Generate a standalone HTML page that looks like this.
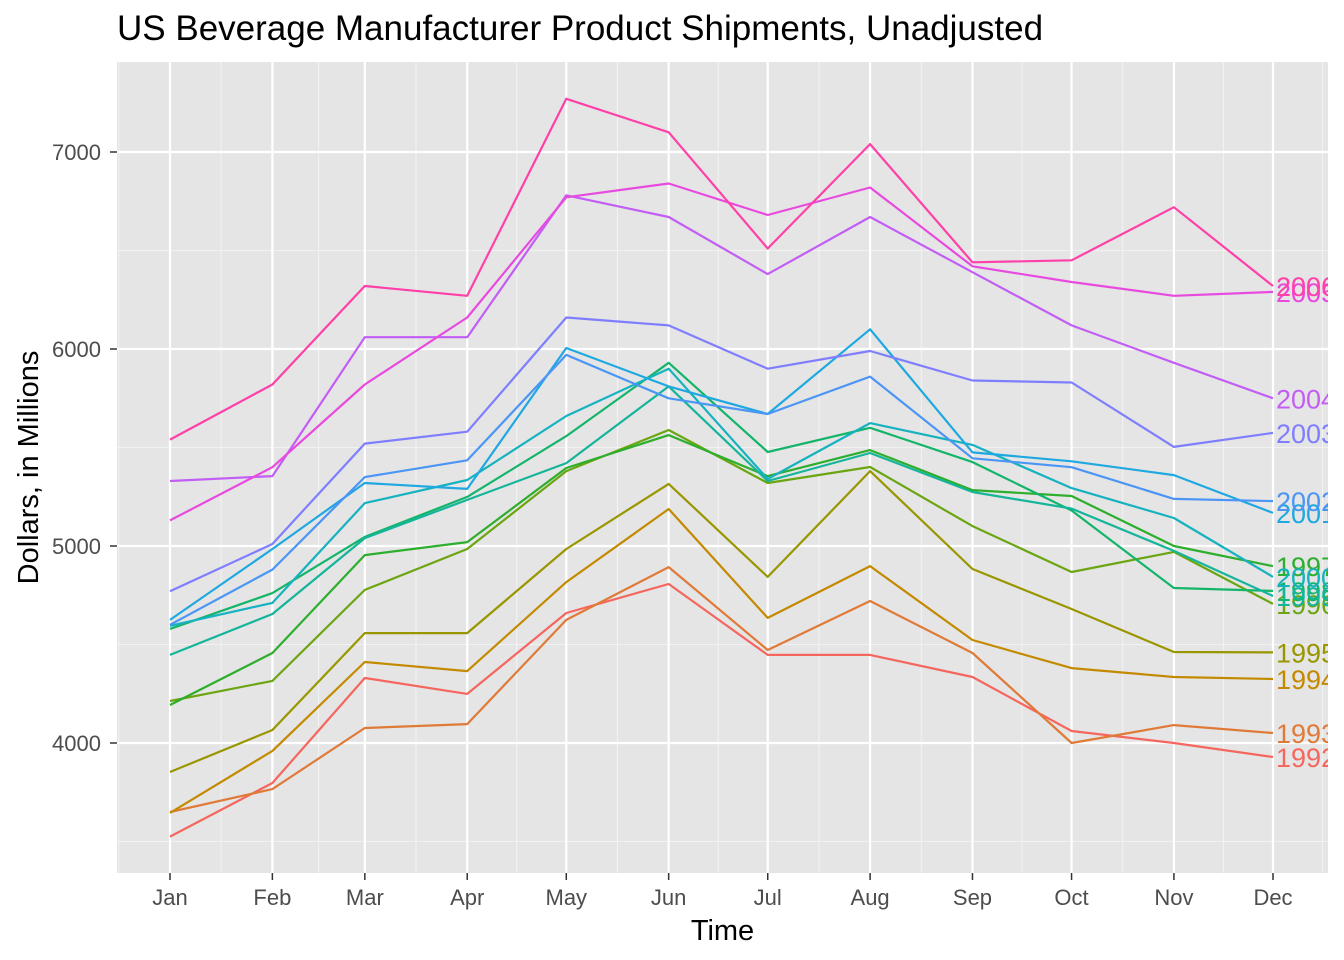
<!DOCTYPE html>
<html><head><meta charset="utf-8"><style>
body{margin:0;background:#fff;}
svg{display:block;font-family:"Liberation Sans",sans-serif;}
</style></head><body>
<svg id="chart" width="1344" height="960"></svg>
<script>
const months=["Jan","Feb","Mar","Apr","May","Jun","Jul","Aug","Sep","Oct","Nov","Dec"];
const monthStartDay=[0,31,59,90,120,151,181,212,243,273,304,334];
const years=["1992","1993","1994","1995","1996","1997","1998","1999","2000","2001","2002","2003","2004","2005","2006"];
const yTicks=[4000,5000,6000,7000];
const yMinor=[3500,4500,5500,6500];
const s1992=[3525,3797,4330,4249,4660,4807,4447,4447,4335,4061,4000,3929];
const s1993=[3650,3766,4076,4096,4625,4893,4472,4721,4457,4000,4091,4051];
const s1994=[3645,3960,4411,4365,4817,5188,4635,4898,4523,4380,4335,4325];
const s1995=[3853,4066,4558,4558,4985,5315,4843,5380,4883,4680,4462,4460];
const s1996=[4213,4315,4777,4985,5380,5589,5320,5401,5101,4868,4970,4706];
const s1997=[4193,4457,4954,5020,5396,5563,5355,5487,5284,5254,5000,4898];
const s1998=[4579,4761,5046,5249,5558,5930,5477,5600,5426,5180,4787,4772];
const s1999=[4447,4655,5040,5234,5421,5810,5330,5472,5274,5190,4975,4746];
const s2000=[4595,4711,5218,5335,5660,5900,5340,5624,5513,5294,5142,4843];
const s2001=[4625,4985,5320,5290,6005,5810,5670,6100,5475,5430,5360,5168];
const s2002=[4600,4880,5350,5435,5970,5750,5670,5860,5445,5400,5239,5228];
const s2003=[4770,5010,5520,5580,6160,6120,5900,5990,5840,5830,5503,5574];
const s2004=[5330,5355,6060,6060,6780,6670,6380,6670,6390,6120,5930,5750];
const s2005=[5130,5400,5820,6160,6770,6840,6680,6820,6420,6340,6270,6290];
const s2006=[5540,5820,6320,6270,7270,7100,6510,7040,6440,6450,6720,6320];
const series=[s1992,s1993,s1994,s1995,s1996,s1997,s1998,s1999,s2000,s2001,s2002,s2003,s2004,s2005,s2006];
const colors=["#F5665E","#E07A38","#C38A00","#999600","#6BA512","#2DAE2D","#14B56A","#14B59A","#16B2C0","#20A8E0","#4B95F5","#7E7EFF","#C25EF5","#E84ADF","#FF40A8"];

const NS="http://www.w3.org/2000/svg";
const svg=document.getElementById('chart');
const P={l:117,r:1328,t:62,b:873};
const x=d=>170+d*(1273-170)/334;
const y=v=>743-(v-4000)*0.197;
function el(tag,attrs,parent){const e=document.createElementNS(NS,tag);for(const k in attrs)e.setAttribute(k,attrs[k]);(parent||svg).appendChild(e);return e;}

const defs=el('defs',{});
const cp=el('clipPath',{id:'pc'},defs);
el('rect',{x:P.l,y:P.t,width:P.r-P.l,height:P.b-P.t},cp);

const bg=el('rect',{x:P.l,y:P.t,width:P.r-P.l,height:P.b-P.t,fill:'#e5e5e5'});



const grid=el('g',{});


yMinor.forEach(v=>{el('line',{x1:P.l,x2:P.r,y1:y(v),y2:y(v),stroke:'#f2f2f2','stroke-width':1.1},grid);});
const xm=[x(monthStartDay[0])-(x(monthStartDay[1])-x(monthStartDay[0]))/2];
for(let i=0;i<11;i++)xm.push((x(monthStartDay[i])+x(monthStartDay[i+1]))/2);
xm.push(x(monthStartDay[11])+(x(monthStartDay[11])-x(monthStartDay[10]))/2);
xm.forEach(px=>{if(px>P.l&&px<P.r)el('line',{x1:px,x2:px,y1:P.t,y2:P.b,stroke:'#f2f2f2','stroke-width':1.1},grid);});
yTicks.forEach(v=>{el('line',{x1:P.l,x2:P.r,y1:y(v),y2:y(v),stroke:'#fff','stroke-width':2.2},grid);});
monthStartDay.forEach(d=>{el('line',{x1:x(d),x2:x(d),y1:P.t,y2:P.b,stroke:'#fff','stroke-width':2.2},grid);});

const plot=el('g',{'clip-path':'url(#pc)'});
series.forEach((s,i)=>{
  const pts=s.map((v,j)=>x(monthStartDay[j]).toFixed(1)+','+y(v).toFixed(1)).join(' ');
  const pl=el('polyline',{points:pts,fill:'none',stroke:colors[i],'stroke-width':2.2,'stroke-linejoin':'round'},plot);
  
  
});
series.forEach((s,i)=>{
  const t=el('text',{x:x(monthStartDay[11])+3,y:y(s[11])+10,fill:colors[i],'font-size':27},plot);
  t.textContent=years[i];
  
  
});

yTicks.forEach(v=>{
  el('line',{x1:P.l-7,x2:P.l,y1:y(v),y2:y(v),stroke:'#333','stroke-width':1.5});
  const t=el('text',{x:P.l-16,y:y(v)+8,'text-anchor':'end','font-size':22,fill:'#4d4d4d'});
  t.textContent=v;
  
  
});
months.forEach((m,i)=>{
  const px=x(monthStartDay[i]);
  el('line',{x1:px,x2:px,y1:P.b,y2:P.b+7,stroke:'#333','stroke-width':1.5});
  const t=el('text',{x:px,y:905,'text-anchor':'middle','font-size':22,fill:'#4d4d4d'});
  t.textContent=m;
  
  
});
const title=el('text',{x:117,y:40,'font-size':35,fill:'#000'});
title.textContent='US Beverage Manufacturer Product Shipments, Unadjusted';


const xt=el('text',{x:(P.l+P.r)/2,y:940,'text-anchor':'middle','font-size':29,fill:'#000'});
xt.textContent='Time';


const yt=el('text',{x:0,y:0,'text-anchor':'middle','font-size':29,fill:'#000',transform:'translate(38,'+((P.t+P.b)/2)+') rotate(-90)'});
yt.textContent='Dollars, in Millions';


</script>
</body></html>
